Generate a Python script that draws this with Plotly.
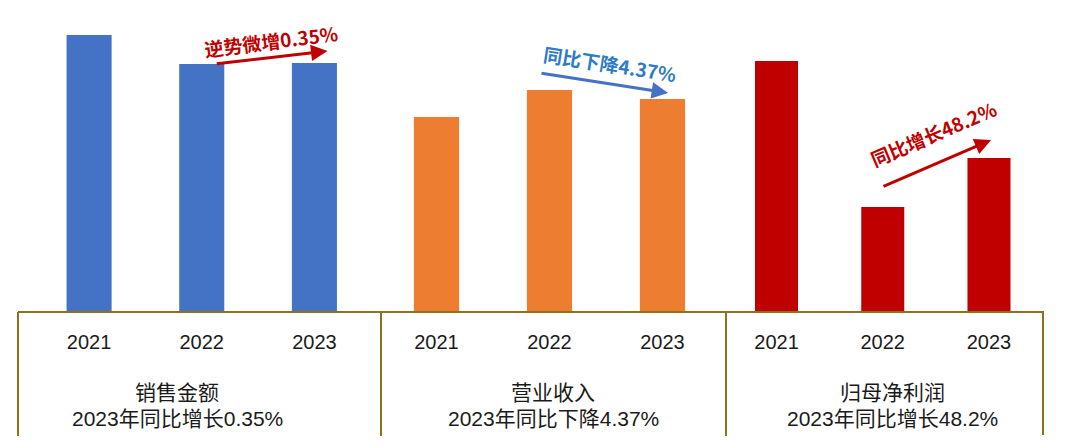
import plotly.graph_objects as go

years = ["2021", "2022", "2023"]
sales = [276, 247, 248]        # 销售金额 (relative bar heights)
revenue = [194, 221, 212]      # 营业收入
profit = [250, 104, 153]       # 归母净利润

group_titles = ["销售金额", "营业收入", "归母净利润"]
group_subtitles = ["2023年同比增长0.35%", "2023年同比下降4.37%", "2023年同比增长48.2%"]
trend_labels = ["逆势微增0.35%", "同比下降4.37%", "同比增长48.2%"]

colors = ["#4472C4", "#ED7D31", "#C00000"]
W, H = 1080, 446
base_px = 311
ydom = [(H - base_px) / H, 1.0]
xdoms = [[32.75 / W, 370.75 / W], [380.0 / W, 719.0 / W], [723.4 / W, 1042.1 / W]]

fig = go.Figure()
series = [sales, revenue, profit]
for i, vals in enumerate(series):
    xa = "x" if i == 0 else f"x{i+1}"
    ya = "y" if i == 0 else f"y{i+1}"
    fig.add_trace(go.Bar(x=years, y=vals, marker=dict(color=colors[i], line=dict(width=0)),
                         width=0.4 if i < 2 else 0.405,
                         xaxis=xa, yaxis=ya, showlegend=False, hoverinfo="x+y"))

lay = dict(width=W, height=H, margin=dict(l=0, r=0, t=0, b=0),
           plot_bgcolor="white", paper_bgcolor="white", showlegend=False)
for i in range(3):
    xk = "xaxis" if i == 0 else f"xaxis{i+1}"
    yk = "yaxis" if i == 0 else f"yaxis{i+1}"
    yname = "y" if i == 0 else f"y{i+1}"
    xname = "x" if i == 0 else f"x{i+1}"
    lay[xk] = dict(domain=xdoms[i], anchor=yname, type="category", range=[-0.5, 2.5],
                   showgrid=False, zeroline=False, showline=False, ticks="",
                   ticklabelstandoff=17,
                   tickfont=dict(family="Liberation Sans, Arial", size=20, color="#1a1a1a"),
                   fixedrange=True)
    lay[yk] = dict(domain=ydom, anchor=xname, range=[0, base_px], visible=False,
                   showgrid=False, zeroline=False, fixedrange=True)
fig.update_layout(**lay)

# frame lines (decoration)
frame_color = "#8C7319"
def px2x(p): return p / W
def py2y(p): return (H - p) / H
shapes = [
    dict(type="line", xref="paper", yref="paper", x0=px2x(18), x1=px2x(1043), y0=py2y(312), y1=py2y(312)),
    dict(type="line", xref="paper", yref="paper", x0=px2x(18), x1=px2x(18), y0=py2y(312), y1=py2y(436)),
    dict(type="line", xref="paper", yref="paper", x0=px2x(381), x1=px2x(381), y0=py2y(312), y1=py2y(436)),
    dict(type="line", xref="paper", yref="paper", x0=px2x(726), x1=px2x(726), y0=py2y(311), y1=py2y(436)),
    dict(type="line", xref="paper", yref="paper", x0=px2x(1043), x1=px2x(1043), y0=py2y(311), y1=py2y(435)),
]
for s in shapes:
    s["line"] = dict(color=frame_color, width=2)
fig.update_layout(shapes=shapes)

ann = []
title_font = dict(family="Liberation Sans, Noto Sans CJK SC", size=21, color="#1a1a1a")
title_cx = [177, 553, 892]
for i in range(3):
    ann.append(dict(text=group_titles[i], xref="paper", yref="paper",
                    x=px2x(title_cx[i]), y=py2y(392),
                    showarrow=False, font=title_font, xanchor="center", yanchor="middle"))
    ann.append(dict(text=group_subtitles[i], xref="paper", yref="paper",
                    x=px2x(title_cx[i]), y=py2y(418.5),
                    showarrow=False, font=title_font, xanchor="center", yanchor="middle"))

lbl_font = "Noto Sans CJK SC, Liberation Sans"
red = "#C00000"
blue_arrow = "#4472C4"
blue_text = "#2F7BC8"

# arrows anchored in data coords (category index, value)
arrows = [
    dict(xref="x", yref="y", axref="x", ayref="y", x=2.116, y=sales[2] + 12, ax=1.12, ay=sales[1], color=red),
    dict(xref="x2", yref="y2", axref="x2", ayref="y2", x=2.05, y=revenue[2] + 6, ax=0.916, ay=revenue[1] + 17, color=blue_arrow),
    dict(xref="x3", yref="y3", axref="x3", ayref="y3", x=2.02, y=profit[2] + 18, ax=0.993, ay=profit[1] + 20, color=red),
]
for a in arrows:
    c = a.pop("color")
    ann.append(dict(text="", showarrow=True, arrowhead=2, arrowsize=1.1, arrowwidth=3,
                    arrowcolor=c, standoff=0, startstandoff=0, **a))

labels = [
    dict(xref="x", yref="y", x=1.617, y=271, textangle=-7, color=red),
    dict(xref="x2", yref="y2", x=1.535, y=248, textangle=9, color=blue_text),
    dict(xref="x3", yref="y3", x=1.47, y=178, textangle=-23, color=red),
]
for i, l in enumerate(labels):
    c = l.pop("color")
    ann.append(dict(text="<b>" + trend_labels[i] + "</b>", showarrow=False,
                    font=dict(family=lbl_font, size=19, color=c), xanchor="center", yanchor="middle", **l))

fig.update_layout(annotations=ann)
fig.write_html("out.html", config={"displayModeBar": False},
               post_script="document.body.style.margin='0';document.body.style.overflow='hidden';")
